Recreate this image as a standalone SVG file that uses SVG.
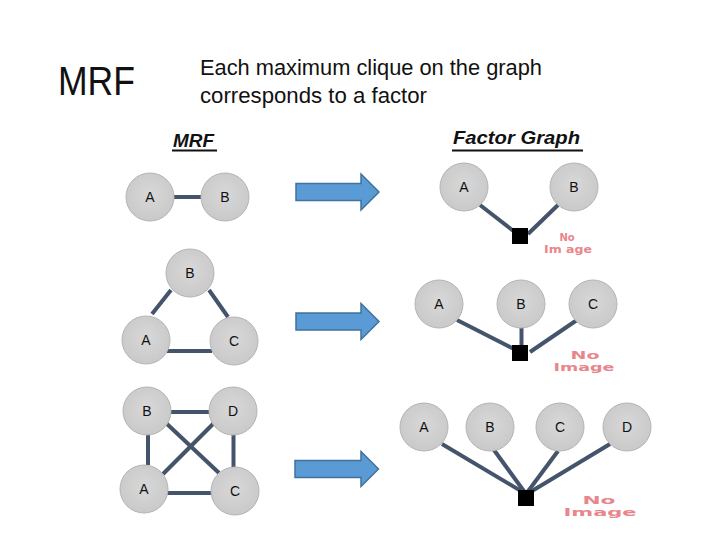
<svg xmlns="http://www.w3.org/2000/svg" width="720" height="540" viewBox="0 0 720 540">
<defs>
<radialGradient id="g" cx="50%" cy="45%" r="60%">
<stop offset="0" stop-color="#d8d8d8"/>
<stop offset="1" stop-color="#c8c8c8"/>
</radialGradient>
</defs>
<style>
.n{fill:url(#g);stroke:#b4b4b4;stroke-width:1}
.l{font-family:"Liberation Sans",Arial,sans-serif;font-size:14px;fill:#111;text-anchor:middle}
.e{stroke:#44546a;stroke-width:4;stroke-linecap:butt;fill:none}
.f{fill:#000}
.ar{fill:#5b9bd5;stroke:#41719c;stroke-width:1.5}
.ni{font-family:"DejaVu Sans",Verdana,sans-serif;font-weight:bold;fill:#e8868c;text-anchor:middle}
.t{font-family:"Liberation Sans",Arial,sans-serif;fill:#111}
.h{font-family:"Liberation Sans",Arial,sans-serif;font-weight:bold;font-style:italic;font-size:19px;fill:#111}
</style>
<rect width="720" height="540" fill="#fff"/>

<text class="t" x="58" y="95" font-size="40" textLength="77" lengthAdjust="spacingAndGlyphs">MRF</text>
<text class="t" x="200" y="75" font-size="22" textLength="342" lengthAdjust="spacingAndGlyphs">Each maximum clique on the graph</text>
<text class="t" x="200" y="103" font-size="22" textLength="227" lengthAdjust="spacingAndGlyphs">corresponds to a factor</text>
<text class="h" x="173" y="147" textLength="41" lengthAdjust="spacingAndGlyphs">MRF</text>
<rect x="172" y="149.5" width="45" height="2" fill="#111"/>
<text class="h" x="453" y="144" textLength="127" lengthAdjust="spacingAndGlyphs">Factor Graph</text>
<rect x="452" y="149.5" width="131" height="2" fill="#111"/>

<g id="connectors">
<line class="e" x1="174" y1="197" x2="201" y2="197"/>
<line class="e" x1="152" y1="314" x2="171" y2="290"/>
<line class="e" x1="209" y1="290" x2="228" y2="317"/>
<line class="e" x1="167" y1="351" x2="212" y2="351"/>
<line class="e" x1="171" y1="412" x2="210" y2="412"/>
<line class="e" x1="148" y1="434" x2="148" y2="465"/>
<line class="e" x1="233.5" y1="433" x2="233.5" y2="467"/>
<line class="e" x1="167" y1="493" x2="212" y2="493"/>
<line class="e" x1="166" y1="423" x2="219" y2="473"/>
<line class="e" x1="214" y1="423" x2="163" y2="474"/>
<line class="e" x1="480" y1="205" x2="516" y2="233"/>
<line class="e" x1="558" y1="205" x2="528" y2="234"/>
<line class="e" x1="457" y1="320" x2="516" y2="350"/>
<line class="e" x1="521.5" y1="327" x2="521.5" y2="350"/>
<line class="e" x1="577" y1="320" x2="530" y2="352"/>
<line class="e" x1="442" y1="444" x2="526" y2="494"/>
<line class="e" x1="494" y1="450" x2="526" y2="494"/>
<line class="e" x1="558" y1="451" x2="526" y2="494"/>
<line class="e" x1="610" y1="444" x2="527" y2="494"/>
<path class="ar" d="M296,183.5 H361 V174 L379,192 L361,210 V200.5 H296 Z"/>
<path class="ar" d="M296,313 H361 V303.5 L379,321.5 L361,339.5 V330 H296 Z"/>
<path class="ar" d="M295,460.5 H361 V451.5 L378.5,469 L361,486.5 V477.5 H295 Z"/>
</g>

<g id="mrf1-A"><circle class="n" cx="150" cy="197" r="24"/><text class="l" x="150" y="202">A</text></g>
<g id="mrf1-B"><circle class="n" cx="225" cy="197" r="24"/><text class="l" x="225" y="202">B</text></g>

<g id="mrf2-B"><circle class="n" cx="190" cy="273" r="24"/><text class="l" x="190" y="278">B</text></g>
<g id="mrf2-A"><circle class="n" cx="146" cy="340" r="24"/><text class="l" x="146" y="345">A</text></g>
<g id="mrf2-C"><circle class="n" cx="234" cy="341" r="24"/><text class="l" x="234" y="346">C</text></g>

<g id="mrf3-B"><circle class="n" cx="147" cy="411" r="24"/><text class="l" x="147" y="416">B</text></g>
<g id="mrf3-D"><circle class="n" cx="233" cy="411" r="24"/><text class="l" x="233" y="416">D</text></g>
<g id="mrf3-A"><circle class="n" cx="144" cy="489" r="24"/><text class="l" x="144" y="494">A</text></g>
<g id="mrf3-C"><circle class="n" cx="235" cy="491" r="24"/><text class="l" x="235" y="496">C</text></g>

<g id="fg1-A"><circle class="n" cx="464" cy="187" r="24"/><text class="l" x="464" y="192">A</text></g>
<g id="fg1-B"><circle class="n" cx="574" cy="187" r="24"/><text class="l" x="574" y="192">B</text></g>
<g id="fg1-factor"><rect class="f" x="512" y="228" width="16" height="16"/>
<text class="ni" x="567" y="241" font-size="10">No</text>
<text class="ni" x="568" y="253" font-size="10" textLength="48" lengthAdjust="spacingAndGlyphs">Im age</text></g>

<g id="fg2-A"><circle class="n" cx="439" cy="304" r="24"/><text class="l" x="439" y="309">A</text></g>
<g id="fg2-B"><circle class="n" cx="521" cy="304" r="24"/><text class="l" x="521" y="309">B</text></g>
<g id="fg2-C"><circle class="n" cx="593" cy="304" r="24"/><text class="l" x="593" y="309">C</text></g>
<g id="fg2-factor"><rect class="f" x="512" y="345" width="16" height="16"/>
<text class="ni" x="585" y="359" font-size="10" textLength="29" lengthAdjust="spacingAndGlyphs">No</text>
<text class="ni" x="584" y="371" font-size="10" textLength="61" lengthAdjust="spacingAndGlyphs">Image</text></g>

<g id="fg3-A"><circle class="n" cx="424" cy="427" r="24"/><text class="l" x="424" y="432">A</text></g>
<g id="fg3-B"><circle class="n" cx="490" cy="427" r="24"/><text class="l" x="490" y="432">B</text></g>
<g id="fg3-C"><circle class="n" cx="560" cy="427" r="24"/><text class="l" x="560" y="432">C</text></g>
<g id="fg3-D"><circle class="n" cx="627" cy="427" r="24"/><text class="l" x="627" y="432">D</text></g>
<g id="fg3-factor"><rect class="f" x="518" y="490" width="16" height="16"/>
<text class="ni" x="599" y="504" font-size="10.5" textLength="33" lengthAdjust="spacingAndGlyphs">No</text>
<text class="ni" x="600" y="516" font-size="10.5" textLength="73" lengthAdjust="spacingAndGlyphs">Image</text></g>
</svg>
